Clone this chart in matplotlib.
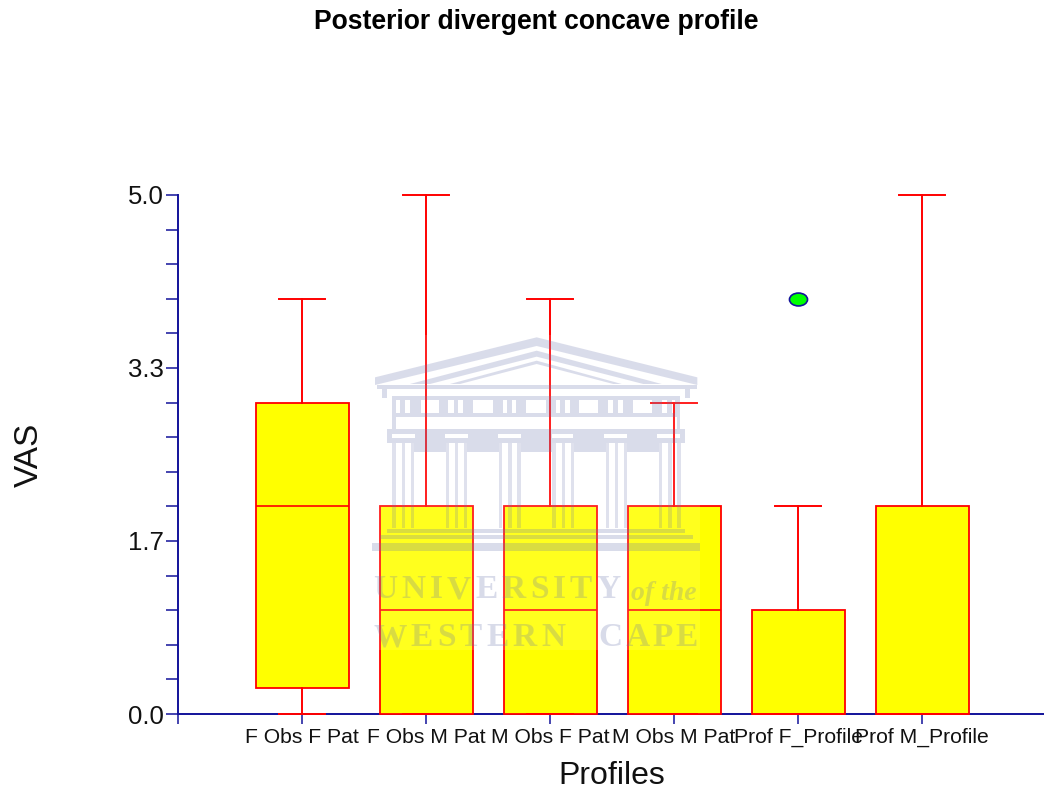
import matplotlib
matplotlib.use('Agg')
import matplotlib.pyplot as plt
from matplotlib.patches import Polygon, Rectangle
from matplotlib.path import Path
from matplotlib.transforms import Affine2D

plt.rcParams['font.family'] = ['Liberation Sans', 'DejaVu Sans']

W, H = 1044, 791
NAVY = '#12129a'
RED = '#ff0000'
YELLOW = '#ffff00'

labels = ['F Obs F Pat', 'F Obs M Pat', 'M Obs F Pat', 'M Obs M Pat', 'Prof F_Profile', 'Prof M_Profile']
whisker_low = [0, 0, 0, 0, 0, 0]
q1 = [0.25, 0, 0, 0, 0, 0]
medians = [2, 1, 1, 1, 0, 0]
q3 = [3, 2, 2, 2, 1, 2]
whisker_high = [4, 5, 4, 3, 2, 5]
outliers = [[], [], [], [], [4], []]

yticks_major = [0, 5 / 3, 10 / 3, 5]
yticks_minor = [i / 3 for i in range(16)]
ytick_labels = ['0.0', '1.7', '3.3', '5.0']

fig = plt.figure(figsize=(W / 100, H / 100), dpi=100)
ax = fig.add_axes([178 / W, 1 - 714 / H, (W - 178) / W, (714 - 195) / H])

stats = []
for i in range(len(labels)):
    stats.append({'label': labels[i], 'whislo': whisker_low[i], 'q1': q1[i], 'med': medians[i],
                  'q3': q3[i], 'whishi': whisker_high[i], 'fliers': outliers[i]})

oval = Path.unit_circle().transformed(Affine2D().scale(1.4, 1))
ax.bxp(stats, positions=range(1, 7), widths=0.75, patch_artist=True,
       boxprops=dict(facecolor=YELLOW, edgecolor=RED, linewidth=1.3),
       medianprops=dict(color=RED, linewidth=1.2),
       whiskerprops=dict(color=RED, linewidth=1.4),
       capprops=dict(color=RED, linewidth=1.4),
       capwidths=0.37,
       flierprops=dict(marker=oval, markerfacecolor='#00ff00', markeredgecolor=NAVY,
                       markeredgewidth=1.2, markersize=13),
       zorder=3)
for artist in ax.get_children():
    artist.set_clip_on(False)

ax.set_xlim(0, (W - 178) / 124)
ax.set_ylim(0, 5)
for s in ['top', 'right']:
    ax.spines[s].set_visible(False)
for s in ['left', 'bottom']:
    ax.spines[s].set_color(NAVY)
    ax.spines[s].set_linewidth(1.4)
    ax.spines[s].set_zorder(2)
ax.set_yticks(yticks_major)
ax.set_yticklabels(ytick_labels, fontsize=18.5, color='#111111')
ax.set_yticks(yticks_minor, minor=True)
ax.tick_params(axis='y', which='both', length=12.5 * 0.72, width=1.1, color=NAVY, pad=1)
ax.set_xticks([0, 1, 2, 3, 4, 5, 6])
ax.set_xticklabels([''] + labels, fontsize=15.2, color='#111111')
ax.tick_params(axis='x', length=10 * 0.72, width=1.1, color=NAVY, pad=3)

fig.text(612 / W, 1 - 776 / H, 'Profiles', fontsize=23, ha='center', va='center', color='#111111')
fig.text(29 / W, 1 - 455 / H, 'VAS', fontsize=24, rotation=90, ha='center', va='center', color='#111111')
fig.text(536 / W, 1 - 22 / H, 'Posterior divergent concave profile', fontsize=19.1,
         fontweight='bold', ha='center', va='center', color='black')

# watermark on top of the chart, pixel coordinates
wm = fig.add_axes([0, 0, 1, 1], zorder=5)
wm.set_xlim(0, W)
wm.set_ylim(H, 0)
wm.axis('off')
wm.patch.set_alpha(0)
SHADE = (0.42, 0.46, 0.68)
A = 0.25

wm.add_patch(Rectangle((372, 335), 328, 315, fc='white', ec='none', alpha=0.12))


def zx(x):
    return 360 + x / 3


def zy(y):
    return 330 + y / 3


def poly(pts, a=A):
    wm.add_patch(Polygon([(zx(x), zy(y)) for x, y in pts], closed=True, fc=SHADE, ec='none', alpha=a))


def box(x0, y0, x1, y1, a=A):
    poly([(x0, y0), (x1, y0), (x1, y1), (x0, y1)], a)


# pediment bands
poly([(530, 22), (1012, 142), (1012, 165), (530, 48), (45, 165), (45, 142)])
poly([(530, 62), (905, 162), (850, 162), (530, 80), (210, 162), (150, 162)])
poly([(530, 92), (785, 162), (760, 162), (530, 102), (300, 162), (270, 162)])
box(50, 165, 1010, 178)
box(65, 178, 80, 205)
box(975, 178, 990, 205)

# frieze
windows = [(108, 120), (135, 150), (182, 238), (265, 283), (295, 310), (340, 398), (428, 440), (455, 468),
           (498, 558), (588, 600), (615, 630), (658, 715), (745, 758), (775, 790), (820, 875), (905, 920), (935, 945)]
box(95, 197, 960, 210)
box(95, 250, 960, 262)
edges = [95] + [e for w in windows for e in w] + [960]
for i in range(0, len(edges), 2):
    box(edges[i], 210, edges[i + 1], 250)
box(95, 262, 108, 298)
box(950, 262, 960, 298)

# architrave with capitals left open
capitals = [(95, 165), (255, 325), (415, 482), (575, 640), (733, 800), (892, 960)]
box(80, 298, 975, 312)
box(80, 325, 975, 338)
edges = [80] + [e for c in capitals for e in c] + [975]
for i in range(0, len(edges), 2):
    box(edges[i], 312, edges[i + 1], 325)

# columns, three flutes each
column_x = [97, 257, 417, 577, 737, 897]
for cx in column_x:
    for dx in [0, 28, 55]:
        box(cx + dx, 338, cx + dx + 10, 595, A * 0.85)
for cx in column_x[:-1]:
    box(cx + 65, 338, cx + 160, 365)

# steps
box(80, 597, 975, 610)
box(60, 615, 1000, 628)
box(35, 640, 1020, 662)

SERIF = ['Liberation Serif', 'DejaVu Serif']
TXT_A = 0.26


def spaced(s, x, y, gap):
    renderer = fig.canvas.get_renderer()
    for ch in s:
        t = wm.text(x, y, ch, fontsize=24, family=SERIF, fontweight='bold', color=SHADE, alpha=TXT_A,
                    va='center', ha='left')
        x += t.get_window_extent(renderer).width + gap


spaced('UNIVERSITY', 373, 590, 4.2)
spaced('WESTERN', 373, 638, 4.2)
spaced('CAPE', 598, 638, 3.0)
wm.text(631, 593, 'of the', fontsize=20, family=SERIF, style='italic', fontweight='bold',
        color=SHADE, alpha=TXT_A, va='center', ha='left')

fig.savefig('out.png', dpi=100)
